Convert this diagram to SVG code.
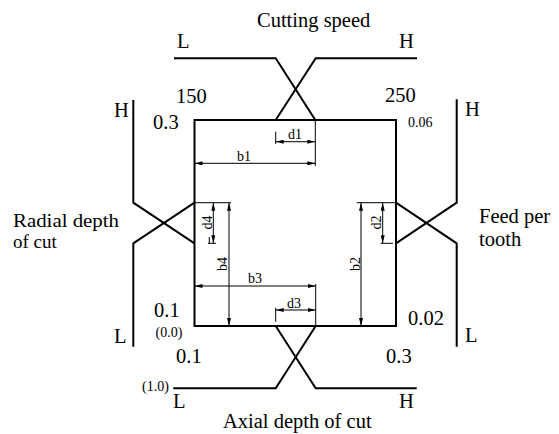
<svg xmlns="http://www.w3.org/2000/svg" width="559" height="434" viewBox="0 0 559 434">
<defs>
<style>
.main{fill:none;stroke:#000;stroke-width:2}
.dim{fill:none;stroke:#000;stroke-width:1}
.dima{fill:none;stroke:#000;stroke-width:1;marker-start:url(#arr);marker-end:url(#arr)}
text{font-family:"Liberation Serif","Times New Roman",serif;fill:#000}
.t{font-size:20.5px}
.m{font-size:19px}
.s{font-size:14px}
.d{font-size:14px}
</style>
<marker id="arr" viewBox="0 0 8 4" refX="8" refY="2" markerWidth="8" markerHeight="4" markerUnits="userSpaceOnUse" orient="auto-start-reverse">
<path d="M0,0 L8,2 L0,4 z" fill="#000"/>
</marker>
</defs>

<g id="square">
<rect class="main" x="194.5" y="120" width="201.5" height="206"/>
</g>

<g id="connectors">
<g id="cutting-speed-axis">
<polyline class="main" points="174,58.3 275.7,58.3 315.3,120"/>
<polyline class="main" points="417,58.3 315.7,58.3 275.7,120"/>
</g>
<g id="axial-depth-axis">
<polyline class="main" points="173.3,388.3 275.7,388.3 315.7,326"/>
<polyline class="main" points="416.7,388.3 315.7,388.3 275.7,326"/>
</g>
<g id="radial-depth-axis">
<polyline class="main" points="133.3,100 133.3,202.7 194.5,243.3"/>
<polyline class="main" points="133.3,346.7 133.3,243.3 194.5,202.7"/>
</g>
<g id="feed-axis">
<polyline class="main" points="456.7,99.3 456.7,202.7 396,243.3"/>
<polyline class="main" points="456.7,346.7 456.7,243.3 396,202.7"/>
</g>
</g>

<g id="dimensions">
<line class="dim" x1="275.7" y1="131.7" x2="275.7" y2="144"/>
<line class="dim" x1="315.3" y1="120" x2="315.3" y2="166"/>
<line class="dima" x1="275.7" y1="141.7" x2="315.3" y2="141.7"/>
<line class="dima" x1="194.5" y1="163.3" x2="315.3" y2="163.3"/>

<line class="dim" x1="194.5" y1="202.7" x2="231" y2="202.7"/>
<line class="dim" x1="208" y1="243.3" x2="216" y2="243.3"/>
<line class="dim" x1="209.3" y1="237" x2="209.3" y2="243.3"/>
<line class="dima" x1="213.3" y1="202.7" x2="213.3" y2="243.3"/>
<line class="dima" x1="229" y1="202.7" x2="229" y2="326"/>

<line class="dim" x1="356.7" y1="202.7" x2="396" y2="202.7"/>
<line class="dim" x1="380.7" y1="243.3" x2="393" y2="243.3"/>
<line class="dima" x1="382.7" y1="202.7" x2="382.7" y2="243.3"/>
<line class="dima" x1="361" y1="202.7" x2="361" y2="326"/>

<line class="dim" x1="315.7" y1="284" x2="315.7" y2="326"/>
<line class="dim" x1="275.7" y1="307.7" x2="275.7" y2="321.7"/>
<line class="dima" x1="194.5" y1="286" x2="315.7" y2="286"/>
<line class="dima" x1="275.7" y1="310" x2="315.7" y2="310"/>
</g>

<g id="dimension-labels">
<text class="d" x="288" y="139">d1</text>
<text class="d" x="237" y="161">b1</text>
<text class="d" x="248" y="283">b3</text>
<text class="d" x="287" y="308">d3</text>
<text class="d" text-anchor="middle" transform="translate(212,222.5) rotate(-90)">d4</text>
<text class="d" text-anchor="middle" transform="translate(226.5,264) rotate(-90)">b4</text>
<text class="d" text-anchor="middle" transform="translate(381,222.5) rotate(-90)">d2</text>
<text class="d" text-anchor="middle" transform="translate(359.5,264) rotate(-90)">b2</text>
</g>

<g id="label-cutting-speed">
<text class="t" x="257" y="27">Cutting speed</text>
<text class="t" x="177" y="48">L</text>
<text class="t" x="399" y="48">H</text>
<text class="t" x="176" y="103">150</text>
<text class="t" x="385" y="102">250</text>
</g>

<g id="label-radial-depth">
<text class="m" x="13" y="227" textLength="106" lengthAdjust="spacingAndGlyphs">Radial depth</text>
<text class="m" x="13" y="248">of cut</text>
<text class="t" x="114" y="117">H</text>
<text class="t" x="114" y="343">L</text>
<text class="t" x="153" y="129">0.3</text>
<text class="t" x="154" y="317">0.1</text>
<text class="s" x="155.5" y="337">(0.0)</text>
</g>

<g id="label-feed">
<text class="t" x="479" y="223">Feed per</text>
<text class="t" x="479" y="246">tooth</text>
<text class="t" x="465" y="116">H</text>
<text class="t" x="465" y="342">L</text>
<text class="s" x="408" y="127">0.06</text>
<text class="t" x="408" y="325">0.02</text>
</g>

<g id="label-axial-depth">
<text class="t" x="223" y="428">Axial depth of cut</text>
<text class="t" x="173" y="408">L</text>
<text class="t" x="399" y="408">H</text>
<text class="t" x="176" y="363">0.1</text>
<text class="t" x="386" y="363">0.3</text>
<text class="s" x="142" y="391">(1.0)</text>
</g>
</svg>
